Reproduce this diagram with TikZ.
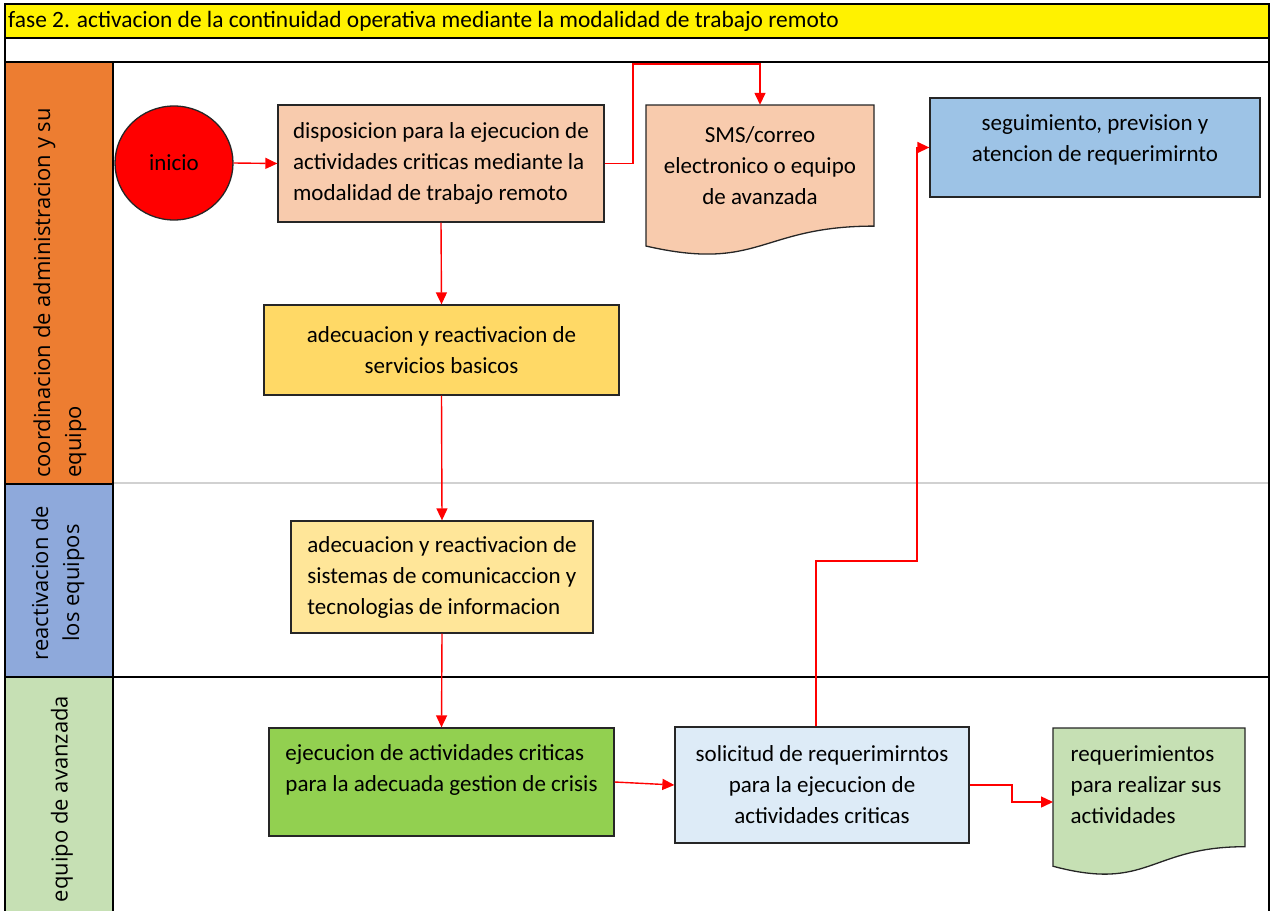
\documentclass[tikz,border=0pt]{standalone}
\usepackage{fontspec}
\setmainfont{Carlito}
\newfontfamily\lanefont{Open Sans}
\usetikzlibrary{arrows.meta,calc,shapes.geometric}
\definecolor{peach}{HTML}{F8CBAD}
\definecolor{segblue}{HTML}{9DC3E6}
\definecolor{servy}{HTML}{FFD966}
\definecolor{sisty}{HTML}{FFE699}
\definecolor{ejecg}{HTML}{92D050}
\definecolor{solb}{HTML}{DDEBF7}
\definecolor{reqg}{HTML}{C6E0B4}
\definecolor{laneo}{HTML}{ED7D31}
\definecolor{laneb}{HTML}{8EA9DB}
\definecolor{laneg}{HTML}{C6E0B4}
\newcommand\docshape[5]{%
  \draw[boxline, fill=#5] (#1,#2) -- (#1+#3,#2) -- (#1+#3,#2+0.802*#4)
    .. controls (#1+0.5*#3,#2+0.802*#4) and (#1+0.5*#3,#2+1.1075*#4) ..
    (#1,#2+0.934*#4) -- cycle;}
\begin{document}
\begin{tikzpicture}[x=1pt,y=-1pt,
  boxline/.style={draw=black!85, line width=1.3pt},
  box/.style={boxline, inner sep=0pt, font=\fontsize{23}{31}\selectfont, align=center},
  txt/.style={inner sep=0pt, font=\fontsize{23}{31}\selectfont},
  arr/.style={draw=red, line width=1.4pt, -{Triangle[length=12pt,width=11pt]}},
  lane/.style={inner sep=0pt, font=\lanefont\fontsize{22}{31}\selectfont, rotate=90},
  frame/.style={line width=2pt, draw=black}
]
\useasboundingbox (0,0) rectangle (1273,910);
\clip (0,0) rectangle (1273,910);
\fill[white] (0,0) rectangle (1273,910);
% frame and lanes
\fill[yellow] (5,4) rectangle (1269,38);
\fill[laneo] (5,62) rectangle (113,484);
\fill[laneb] (5,484) rectangle (113,677);
\fill[laneg] (5,677) rectangle (113,915);
\draw[black!18, line width=2pt] (113,483) -- (1269,483);
\draw[frame] (5,915) -- (5,4) -- (1269,4) -- (1269,915);
\draw[frame] (5,38) -- (1269,38);
\draw[frame] (5,62) -- (1269,62);
\draw[frame] (113,62) -- (113,915);
\draw[frame] (5,484) -- (113,484);
\draw[frame] (5,677) -- (1269,677);
\node[anchor=west, inner sep=0pt, font=\fontsize{23.4}{28}\selectfont] (title) at (8,21)
  {fase 2. activacion de la continuidad operativa mediante la modalidad de trabajo remoto};
% lane labels
\node[lane, align=left, anchor=west] (lane1) at (60,478) {coordinacion de administracion y su\\equipo};
\node[lane, align=center] (lane2) at (58,583) {reactivacion de\\los equipos};
\node[lane] (lane3) at (62,799) {equipo de avanzada};
% document shapes
\docshape{646}{105}{228}{151}{peach}
\docshape{1053}{728}{192}{148}{reqg}
% nodes
\node[ellipse, boxline, fill=red, minimum width=118pt, minimum height=114pt, inner sep=0pt,
  font=\fontsize{23}{31}\selectfont] (inicio) at (174,163) {inicio};
\node[box, fill=peach, align=left, minimum width=326pt, minimum height=117pt] (box1) at (441,163.5)
  {disposicion para la ejecucion de\\actividades criticas mediante la\\modalidad de trabajo remoto};
\node[txt, align=center, minimum width=228pt, minimum height=121pt] (sms) at (760,165.5)
  {SMS/correo\\electronico o equipo\\de avanzada};
\node[box, fill=segblue, minimum width=330pt, minimum height=99pt] (seg) at (1095,147.5) {};
\node[txt, align=center] (segtxt) at (1095,140) {seguimiento, prevision y\\atencion de requerimirnto};
\node[box, fill=servy, minimum width=355pt, minimum height=90pt] (serv) at (441.5,350)
  {adecuacion y reactivacion de\\servicios basicos};
\node[box, fill=sisty, align=left, minimum width=302pt, minimum height=112pt] (sist) at (442,577)
  {adecuacion y reactivacion de\\sistemas de comunicaccion y\\tecnologias de informacion};
\node[box, fill=ejecg, minimum width=345pt, minimum height=108pt] (ejec) at (441.5,782) {};
\node[txt, align=left] (ejectxt) at (441.5,770) {ejecucion de actividades criticas\\para la adecuada gestion de crisis};
\node[box, fill=solb, minimum width=294pt, minimum height=116pt] (sol) at (822,785)
  {solicitud de requerimirntos\\para la ejecucion de\\actividades criticas};
\node[txt, align=left, minimum width=192pt, minimum height=119pt] (req) at (1146,785)
  {requerimientos\\para realizar sus\\actividades};
% connectors
\draw[arr] (inicio.east) -- (box1.west);
\draw[arr] (box1.east) -| (633,64) -| (sms.north);
\draw[arr] (box1.south) -- (serv.north);
\draw[arr] (serv.south) -- (sist.north);
\draw[arr] (sist.south) -- (ejec.north);
\draw[arr] (ejec.east) -- (sol.west);
\draw[arr] (sol.east) -| (1012,802) -- (1053,802);
\draw[arr] ([xshift=-6pt]sol.north) |- (917,561) |- (seg.west);
\end{tikzpicture}
\end{document}
